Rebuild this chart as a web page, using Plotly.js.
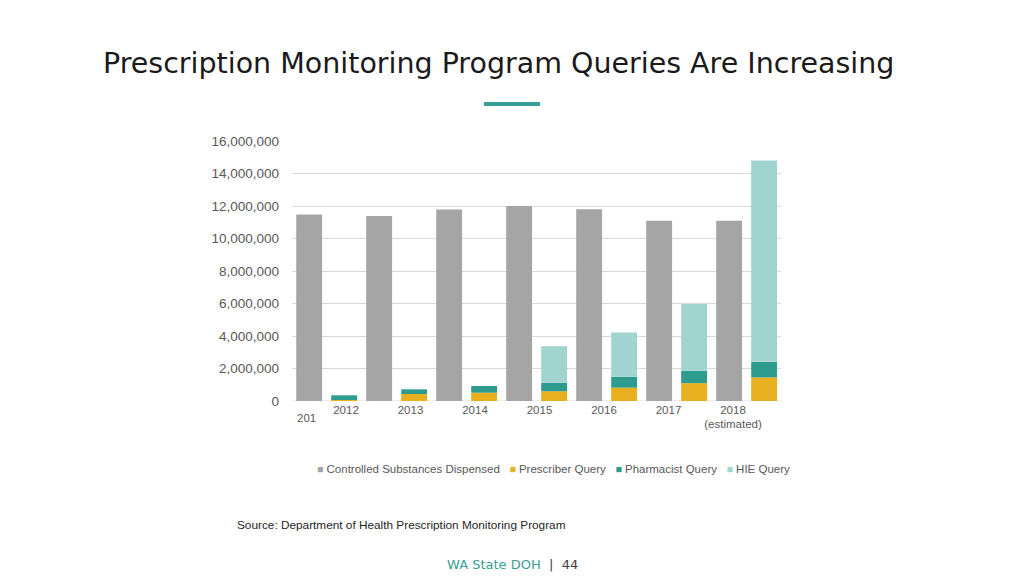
<!DOCTYPE html>
<html>
<head>
<meta charset="utf-8">
<script src="https://cdn.plot.ly/plotly-3.0.1.min.js"></script>
<style>
html,body{margin:0;padding:0;background:#fff;}
#chart{width:1024px;height:576px;}
</style>
</head>
<body>
<div id="chart"></div>
<script>
// ---- data ----
var years = [2012, 2013, 2014, 2015, 2016, 2017, 2018];
var yearLabels = ["2012", "2013", "2014", "2015", "2016", "2017", "2018<br>(estimated)"];
var dispensed = [11470000, 11380000, 11780000, 12000000, 11800000, 11100000, 11100000];
var prescriber = [60000, 430000, 510000, 600000, 820000, 1100000, 1450000];
var pharmacist = [290000, 290000, 410000, 520000, 670000, 760000, 960000];
var hie = [0, 0, 0, 2250000, 2720000, 4110000, 12390000];
var seriesNames = ["Controlled Substances Dispensed", "Prescriber Query", "Pharmacist Query", "HIE Query"];
var colors = ["#a5a5a5", "#e8b021", "#2e9b8f", "#a2d4cf"];

// stacking bases computed from data
var basePharm = prescriber.map(function(v){return v;});
var baseHie = prescriber.map(function(v,i){return v + pharmacist[i];});

var textColor = "#595959";
var font = {family: "Liberation Sans, Arial, sans-serif", size: 11.5, color: textColor};

var traces = [
  {type:"bar", name:seriesNames[0], x:years, y:dispensed, offset:-0.44, width:0.37,
   marker:{color:colors[0]}, hoverinfo:"y+name", showlegend:false},
  {type:"bar", name:seriesNames[1], x:years, y:prescriber, offset:0.06, width:0.37,
   marker:{color:colors[1]}, hoverinfo:"y+name", showlegend:false},
  {type:"bar", name:seriesNames[2], x:years, y:pharmacist, base:basePharm, offset:0.06, width:0.37,
   marker:{color:colors[2]}, hoverinfo:"y+name", showlegend:false},
  {type:"bar", name:seriesNames[3], x:years, y:hie, base:baseHie, offset:0.06, width:0.37,
   marker:{color:colors[3]}, hoverinfo:"y+name", showlegend:false},
  // carrier for the shifted label axis (no visible marks)
  {type:"scatter", mode:"markers", x:years, y:years.map(function(){return null;}),
   xaxis:"x2", showlegend:false, hoverinfo:"skip"}
];

// legend built as one rich-text line from the series names/colours
var legendText = seriesNames.map(function(n, i){
  return "<span style='color:" + colors[i] + ";font-size:10.5px'>■</span> " + n;
}).join("   ");

var layout = {
  width:1024, height:576,
  paper_bgcolor:"#ffffff", plot_bgcolor:"#ffffff",
  margin:{l:292, r:243, t:141, b:175, autoexpand:false},
  barmode:"overlay",
  showlegend:false,
  font:font,
  title:{text:"Prescription Monitoring Program Queries Are Increasing",
         x:103/1024, xref:"container", xanchor:"left", y:1-63/576, yref:"container", yanchor:"middle",
         font:{family:"DejaVu Sans, sans-serif", size:28.5, color:"#1a1a1a"}},
  xaxis:{range:[2011.5, 2018.486], showticklabels:false, showgrid:false, zeroline:false,
         showline:false, ticks:"", fixedrange:true},
  xaxis2:{overlaying:"x", side:"bottom", anchor:"y", range:[2011.163, 2018.744],
          tickmode:"array", tickvals:years, ticktext:yearLabels, showgrid:false,
          zeroline:false, showline:false, ticks:"", tickfont:{size:11.5, color:textColor},
          tickangle:0, automargin:false, fixedrange:true},
  yaxis:{range:[0, 16000000], tickmode:"linear", tick0:0, dtick:2000000,
         tickformat:",d", showgrid:true, gridcolor:"#d9d9d9", gridwidth:1,
         zeroline:false, showline:false, ticks:"", ticklabelstandoff:12,
         tickfont:{size:13.5, color:textColor}, automargin:false, fixedrange:true},
  shapes:[
    {type:"line", xref:"paper", yref:"y", x0:0, x1:1, y0:0, y1:0,
     line:{color:"#d9d9d9", width:1}, layer:"below"},
    {type:"line", xref:"paper", yref:"paper", x0:(484-292)/489, x1:(540-292)/489,
     y0:(401-104)/260, y1:(401-104)/260, line:{color:"#3a9e96", width:4}}
  ],
  annotations:[
    {text:legendText, xref:"paper", yref:"paper", x:(553-292)/489, y:(401-469)/260,
     xanchor:"center", yanchor:"middle", showarrow:false,
     font:{size:11.5, color:textColor}},
    {text:"201", xref:"paper", yref:"paper", x:(306-292)/489, y:(401-418)/260, showarrow:false,
     font:{size:11.5, color:textColor}, xanchor:"center", yanchor:"middle"},
    {text:"Source: Department of Health Prescription Monitoring Program",
     xref:"paper", yref:"paper", x:(235-292)/489, y:(401-525)/260, xanchor:"left", yanchor:"middle",
     showarrow:false, font:{size:11.8, color:"#262626"}},
    {text:"<span style='color:#3a9e96'>WA State DOH</span>  |  44",
     xref:"paper", yref:"paper", x:(445-292)/489, y:(401-564)/260, xanchor:"left", yanchor:"middle",
     showarrow:false, font:{family:"DejaVu Sans, sans-serif", size:13, color:"#404040"}}
  ]
};

Plotly.newPlot("chart", traces, layout, {displayModeBar:false});
</script>
</body>
</html>
